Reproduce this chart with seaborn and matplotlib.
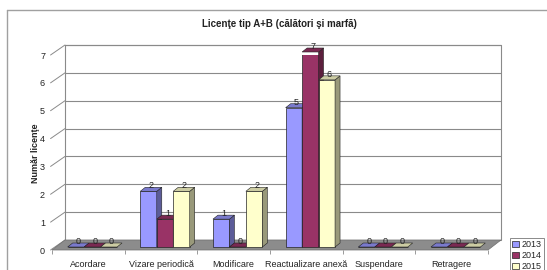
import numpy as np
import pandas as pd
import matplotlib
matplotlib.use('Agg')
import matplotlib.pyplot as plt
import matplotlib.transforms as mtransforms
import seaborn as sns
from matplotlib.patches import Polygon, Rectangle
from matplotlib.lines import Line2D
from matplotlib.colors import to_rgb

# Data
categories = ['Acordare', 'Vizare periodică', 'Modificare', 'Reactualizare anexă', 'Suspendare', 'Retragere']
years = ['2013', '2014', '2015']
v2013 = [0, 2, 1, 5, 0, 0]
v2014 = [0, 1, 0, 7, 0, 0]
v2015 = [0, 2, 2, 6, 0, 0]
colors = ['#9999FF', '#993366', '#FFFFCC']
yticks = [0, 1, 2, 3, 4, 5, 6, 7]

df = pd.DataFrame({'Categorie': categories * 3,
                   'An': np.repeat(years, len(categories)),
                   'Valoare': v2013 + v2014 + v2015})

sns.set_theme(style='white')
plt.rcParams['font.family'] = ['Liberation Sans', 'DejaVu Sans']

W, H = 547, 270
fig = plt.figure(figsize=(W / 100, H / 100), dpi=100)
ax = fig.add_axes([52 / W, 20 / H, 436 / W, 195 / H])
ax.patch.set_visible(False)

sns.barplot(data=df, x='Categorie', y='Valoare', hue='An', palette=colors, width=0.68,
            edgecolor='#222222', linewidth=0.5, ax=ax, saturation=1)
ax.set_xlim(-0.5, 5.5)
ax.set_ylim(0, 7)

# pixel -> data conversion for the pseudo-3D depth
pxx = 436 / 6.0
pxy = 195 / 7.0
Dx, Dy = 13 / pxx, 10 / pxy       # wall depth
bx, by = 5 / pxx, 4 / pxy         # bar depth
sx, sy = 4 / pxx, 3 / pxy         # bar shift into the floor

# back wall, grid, floor
ax.add_patch(Rectangle((-0.5 + Dx, Dy), 6, 7, facecolor='white', edgecolor='#8a8a8a',
                       linewidth=0.8, clip_on=False, zorder=0))
for k in yticks[1:]:
    ax.add_line(Line2D([-0.5 + Dx, 5.5 + Dx], [k + Dy, k + Dy], color='#8a8a8a', lw=0.8,
                       clip_on=False, zorder=0.5))
for k in yticks:
    ax.add_line(Line2D([-0.5 - 0.02, -0.5 + Dx], [k, k + Dy], color='#8a8a8a', lw=0.7,
                       clip_on=False, zorder=0.5))
ax.add_patch(Polygon([(-0.5, 0), (5.5, 0), (5.5 + Dx, Dy), (-0.5 + Dx, Dy)], closed=True,
                     facecolor='#8c8c8c', edgecolor='#6e6e6e', linewidth=0.5,
                     clip_on=False, zorder=1))

# bars: shift into the floor and add side / top faces
shift = ax.transData + mtransforms.ScaledTranslation(4 / 100, 3 / 100, fig.dpi_scale_trans)
bars = sorted([p for p in ax.patches if isinstance(p, Rectangle) and 0 < p.get_width() < 1],
              key=lambda b: b.get_x())
for i, bar in enumerate(bars):
    z = 3 + i * 0.01
    x0 = bar.get_x() + sx
    x1 = x0 + bar.get_width()
    h = bar.get_height()
    base = np.array(to_rgb(bar.get_facecolor()))
    bar.set_transform(shift)
    bar.set_zorder(z)
    if h > 0:
        ax.add_patch(Polygon([(x1, sy), (x1 + bx, sy + by), (x1 + bx, h + sy + by), (x1, h + sy)],
                             closed=True, facecolor=base * 0.6, edgecolor='#222222', linewidth=0.4,
                             zorder=z, clip_on=False))
    ax.add_patch(Polygon([(x0, h + sy), (x1, h + sy), (x1 + bx, h + sy + by), (x0 + bx, h + sy + by)],
                         closed=True, facecolor=base * 0.8, edgecolor='#222222', linewidth=0.4,
                         zorder=z, clip_on=False))
    ax.text((x0 + x1) / 2 + bx / 2, h + sy + by + 1.5 / pxy, f'{h:.0f}', ha='center', va='center',
            fontsize=6.5, color='#222222', zorder=10, clip_on=False)

# axes cosmetics
sns.despine(ax=ax, left=True, bottom=True)
ax.set_xlabel('')
ax.set_ylabel('')
ax.set_yticks(yticks)
ax.tick_params(axis='y', length=0, pad=5, labelsize=6.5, labelcolor='#222222')
ax.tick_params(axis='x', which='major', length=0, pad=7, labelsize=6.5, labelcolor='#222222')
ax.set_xticks(np.arange(-0.5, 6, 1), minor=True)
ax.tick_params(axis='x', which='minor', length=3, width=0.6, color='#8a8a8a', bottom=True)

leg = ax.legend(loc='upper left', bbox_to_anchor=(505 / W, 1 - 233 / H), bbox_transform=fig.transFigure,
                fontsize=6.5, handlelength=0.7, handleheight=0.7, handletextpad=0.3, labelspacing=0.2,
                borderpad=0.3, frameon=True, fancybox=False, edgecolor='#8a8a8a', framealpha=1)
leg.get_frame().set_linewidth(0.7)

# title, y label and outer frame
fig.text(279 / W, 1 - 24 / H, 'Licenţe tip A+B (călători şi marfă)', ha='center', va='center',
         fontsize=7, fontweight='bold', color='#222222')
fig.text(35 / W, 1 - 153 / H, 'Număr licenţe', ha='center', va='center', rotation=90,
         fontsize=6.5, fontweight='bold', color='#222222')
fig.add_artist(Line2D([7 / W, 1], [1 - 10 / H, 1 - 10 / H], transform=fig.transFigure, color='#a0a0a0', lw=1))
fig.add_artist(Line2D([7 / W, 7 / W], [0, 1 - 10 / H], transform=fig.transFigure, color='#a0a0a0', lw=1))

fig.savefig('out.png', dpi=100)
